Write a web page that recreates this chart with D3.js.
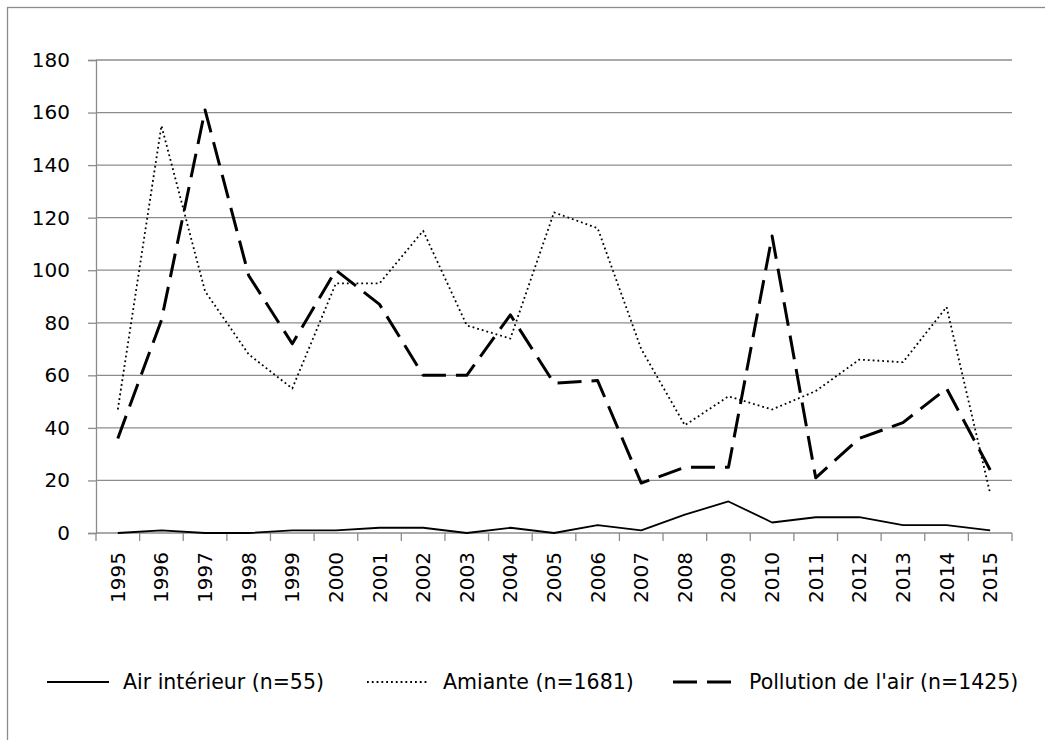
<!DOCTYPE html>
<html>
<head>
<meta charset="utf-8">
<script src="https://cdn.jsdelivr.net/npm/d3@7"></script>
<style>
  body { margin: 0; background: #fff; }
  svg text { font-family: "DejaVu Sans", sans-serif; fill: #000; }
</style>
</head>
<body>
<svg id="chart" width="1045" height="740"></svg>
<script>
"use strict";

const years = ["1995","1996","1997","1998","1999","2000","2001","2002","2003","2004",
  "2005","2006","2007","2008","2009","2010","2011","2012","2013","2014","2015"];
const airInterieur = [0,1,0,0,1,1,2,2,0,2,0,3,1,7,12,4,6,6,3,3,1];
const amiante = [47,155,92,68,55,95,95,115,79,74,122,116,70,41,52,47,54,66,65,86,15];
const pollution = [36,81,161,98,72,100,87,60,60,83,57,58,19,25,25,113,21,36,42,55,24];
const yTicks = [0,20,40,60,80,100,120,140,160,180];

const series = [
  { name: "Air intérieur (n=55)", values: airInterieur, width: 1.8, dash: null },
  { name: "Amiante (n=1681)", values: amiante, width: 1.8, dash: "1.8,3" },
  { name: "Pollution de l'air (n=1425)", values: pollution, width: 3, dash: "24,10" }
];

const chart = d3.select('#chart');

// outer frame, only top and left edges fall inside the page
chart.append('rect')
  .attr('x', 7.5).attr('y', 7.5)
  .attr('width', 1050).attr('height', 750)
  .attr('fill', 'none').attr('stroke', '#8c8c8c').attr('stroke-width', 1.3);

const x = d3.scaleBand().domain(years).range([96, 1012]);
const y = d3.scaleLinear().domain([0, 180]).range([533, 60]);

// gridlines
chart.append('g').selectAll('line')
  .data(yTicks.filter(d => d > 0))
  .enter().append('line')
  .attr('x1', 96).attr('x2', 1012)
  .attr('y1', d => y(d)).attr('y2', d => y(d))
  .attr('stroke', '#8c8c8c').attr('stroke-width', 1.3);

// y axis
const yAxis = chart.append('g')
  .attr('transform', 'translate(96,0)')
  .call(d3.axisLeft(y).tickValues(yTicks).tickSize(8).tickPadding(18));
yAxis.select('.domain').attr('stroke', '#8c8c8c').attr('stroke-width', 1.3);
yAxis.selectAll('.tick line').attr('stroke', '#8c8c8c').attr('stroke-width', 1.3);
yAxis.selectAll('.tick text').style('font-size', '20px').attr('fill', '#000');

// x axis, ticks at category boundaries
const xAxisG = chart.append('g').attr('transform', `translate(0,${y(0)})`);
xAxisG.append('line')
  .attr('x1', 96).attr('x2', 1012)
  .attr('stroke', '#8c8c8c').attr('stroke-width', 1.3);
xAxisG.selectAll('.bound')
  .data(years.concat(['end']))
  .enter().append('line')
  .attr('class', 'bound')
  .attr('x1', (d, i) => 96 + i * x.step())
  .attr('x2', (d, i) => 96 + i * x.step())
  .attr('y1', 0).attr('y2', 8)
  .attr('stroke', '#8c8c8c').attr('stroke-width', 1.3);
xAxisG.selectAll('.ylab')
  .data(years)
  .enter().append('text')
  .attr('class', 'ylab')
  .attr('transform', d => `translate(${x(d) + x.bandwidth() / 2},19) rotate(-90)`)
  .attr('text-anchor', 'end')
  .attr('dy', '0.35em')
  .style('font-size', '20px')
  .text(d => d);

// lines
const line = d3.line()
  .x((d, i) => x(years[i]) + x.bandwidth() / 2)
  .y(d => y(d));

chart.append('g').selectAll('path')
  .data(series)
  .enter().append('path')
  .attr('d', d => line(d.values))
  .attr('fill', 'none')
  .attr('stroke', '#000')
  .attr('stroke-width', d => d.width)
  .attr('stroke-dasharray', d => d.dash)
  .attr('stroke-linejoin', 'round');

// legend
const legendX = [47, 367, 673];
const lg = chart.append('g').selectAll('g')
  .data(series)
  .enter().append('g')
  .attr('transform', (d, i) => `translate(${legendX[i]},682)`);
lg.append('line')
  .attr('x1', 0).attr('x2', 62)
  .attr('stroke', '#000')
  .attr('stroke-width', d => d.width)
  .attr('stroke-dasharray', d => d.dash);
lg.append('text')
  .attr('x', 76).attr('dy', '0.35em')
  .style('font-size', '20.5px')
  .text(d => d.name);
</script>
</body>
</html>
